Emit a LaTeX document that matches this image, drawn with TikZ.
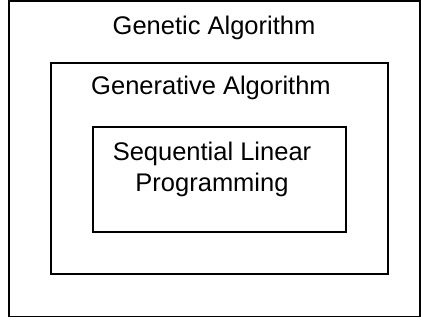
\documentclass[tikz,border=0pt]{standalone}
\usepackage{fontspec}
\setmainfont{Liberation Sans}
\usepackage{tikz}
\usetikzlibrary{positioning}

\begin{document}
\begin{tikzpicture}[x=1pt,y=-1pt,semithick]
  \tikzstyle{box}=[draw,line width=1.3pt,inner sep=0pt]
  \tikzstyle{caption}=[anchor=base,inner sep=0pt,align=center,
                       font=\fontsize{25.5}{31}\selectfont]

  \useasboundingbox (0,0) rectangle (421,320);

  % nested boxes
  \node[box,minimum width=411pt,minimum height=315.5pt] (GA)  at (214.5,158.75) {};
  \node[box,minimum width=337pt,minimum height=211pt]   (GEN) at (219.5,168.5)  {};
  \node[box,minimum width=253pt,minimum height=105pt]   (SLP) at (219.5,179.5)  {};

  % titles
  \node[caption] (GAtext)  at (214,35)  {Genetic Algorithm};
  \node[caption] (GENtext) at (211,95)  {Generative Algorithm};
  \node[caption] (SLPtext) at (212,192) {Sequential Linear\\Programming};
\end{tikzpicture}
\end{document}
